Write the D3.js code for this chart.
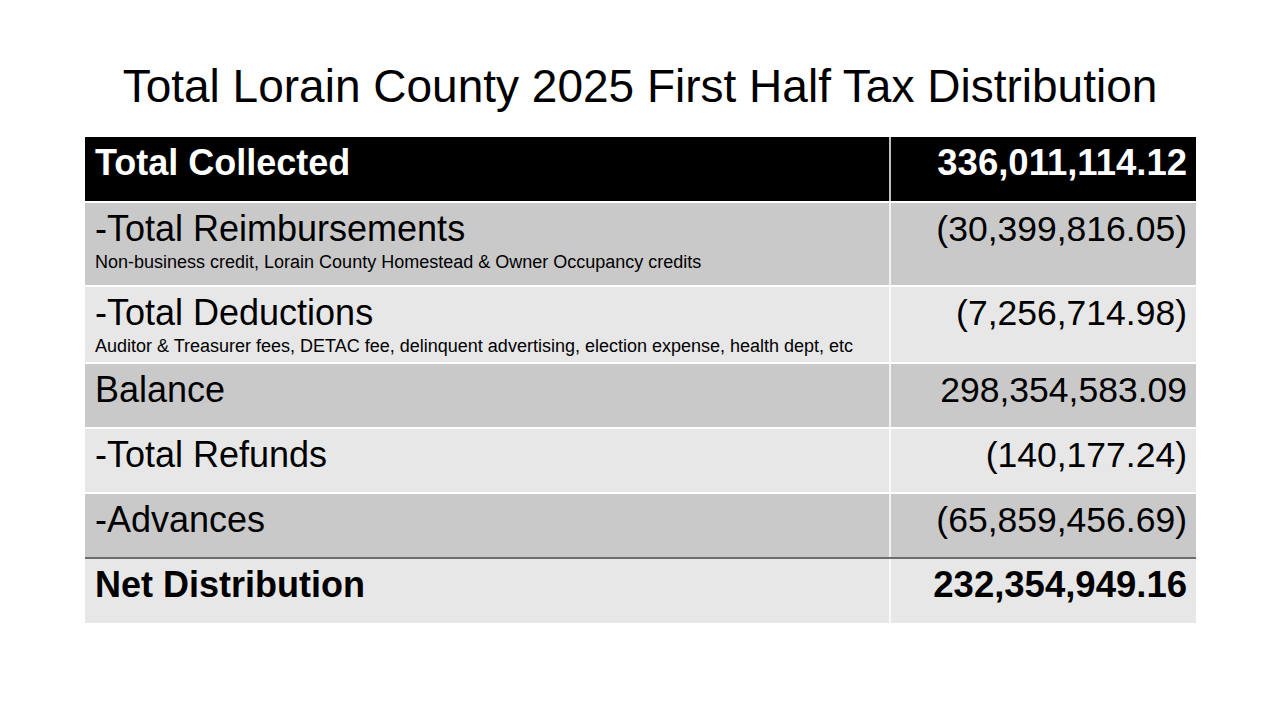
<!DOCTYPE html>
<html>
<head>
<meta charset="utf-8">
<script src="https://cdn.jsdelivr.net/npm/d3@7"></script>
<style>
	body { margin: 0; background: #fff; }
	svg { display: block; font-family: "Liberation Sans", Arial, sans-serif; }
</style>
</head>
<body>
<div id="viz-container"></div>
<script>
// table contents
var labels = ['Total Collected', '-Total Reimbursements', '-Total Deductions', 'Balance', '-Total Refunds', '-Advances', 'Net Distribution'];
var notes = ['', 'Non-business credit, Lorain County Homestead & Owner Occupancy credits', 'Auditor & Treasurer fees, DETAC fee, delinquent advertising, election expense, health dept, etc', '', '', '', ''];
var amounts = [336011114.12, -30399816.05, -7256714.98, 298354583.09, -140177.24, -65859456.69, 232354949.16];
var title = 'Total Lorain County 2025 First Half Tax Distribution';

var width = 1280,
	height = 720,
	left = 85,
	right = 1196,
	divider = 890,
	top0 = 137,
	gap = 2,
	rowH = 63,
	noteH = [1, 19, 12, 0, 0, 0, 1];

var fmt = d3.format(',.2f');
function money (v) {
	return v < 0 ? '(' + fmt(-v) + ')' : fmt(v);
}

// row tops, stacked with a small white gap
var tops = [];
var y = top0;
for (var i = 0; i < labels.length; i++) {
	tops.push(y);
	y += rowH + noteH[i] + gap;
}

var svg = d3.select('#viz-container')
	.append('svg')
	.attr('width', width)
	.attr('height', height);

var t = svg.append('text')
	.attr('x', 640)
	.attr('y', 102)
	.attr('text-anchor', 'middle')
	.attr('font-size', 44)
	.attr('fill', '#000')
	.text(title);
// stretch the font size so the title spans the same width
var tw = t.node().getComputedTextLength();
t.attr('font-size', 44 * 1035 / tw);

var last = labels.length - 1;
function strong (i) { return i === 0 || i === last; }

var rows = svg.selectAll('g.row')
	.data(labels)
	.enter()
	.append('g')
	.attr('class', 'row')
	.attr('transform', function (d, i) { return 'translate(0,' + tops[i] + ')'; });

rows.append('rect')
	.attr('x', left)
	.attr('width', right - left)
	.attr('height', function (d, i) { return rowH + noteH[i]; })
	.attr('fill', function (d, i) {
		if (i === 0) return '#000';
		return i % 2 === 1 ? '#c9c9c9' : '#e7e7e7';
	});

rows.append('text')
	.attr('x', 95)
	.attr('y', 38)
	.attr('font-size', 36)
	.attr('font-weight', function (d, i) { return strong(i) ? 'bold' : 'normal'; })
	.attr('fill', function (d, i) { return i === 0 ? '#fff' : '#000'; })
	.text(function (d) { return d; });

rows.append('text')
	.attr('x', 95)
	.attr('y', 65)
	.attr('font-size', 18)
	.attr('fill', '#000')
	.text(function (d, i) { return notes[i]; });

rows.append('text')
	.attr('x', 1187)
	.attr('y', 38)
	.attr('text-anchor', 'end')
	.attr('font-size', function (d, i) { return strong(i) ? 36.5 : 35.5; })
	.attr('font-weight', function (d, i) { return strong(i) ? 'bold' : 'normal'; })
	.attr('fill', function (d, i) { return i === 0 ? '#fff' : '#000'; })
	.text(function (d, i) { return money(amounts[i]); });

// column divider
svg.append('line')
	.attr('x1', divider)
	.attr('x2', divider)
	.attr('y1', top0)
	.attr('y2', tops[last] + rowH + noteH[last])
	.attr('stroke', '#fff')
	.attr('stroke-width', 1.5);

// rule above the net line
svg.append('line')
	.attr('x1', left)
	.attr('x2', right)
	.attr('y1', tops[last] - 1)
	.attr('y2', tops[last] - 1)
	.attr('stroke', '#3c3c3c')
	.attr('stroke-width', 1.5);
</script>
</body>
</html>
